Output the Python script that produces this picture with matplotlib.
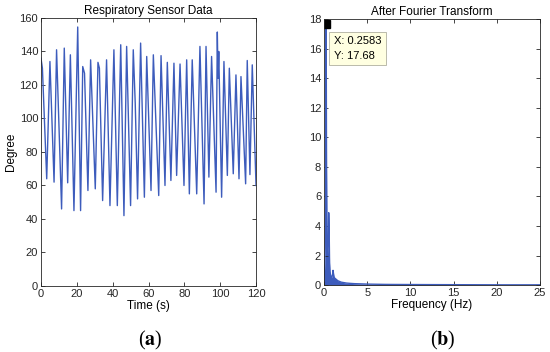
import matplotlib
matplotlib.use("Agg")
import matplotlib.pyplot as plt

plt.rcParams['font.family'] = ['Liberation Sans', 'DejaVu Sans']
plt.rcParams['mathtext.fontset'] = 'stix'

# (a) respiratory sensor: peaks / troughs
time_s = [0, 0.8, 3.2, 5.0, 7.3, 8.7, 11.5, 13.0, 14.9, 16.4, 18.4, 20.5, 22.1,
          23.3, 24.3, 26.2, 27.7, 30.3, 31.8, 32.6, 34.4, 36.6, 38.5, 40.7,
          42.6, 44.5, 46.3, 47.8, 50.0, 51.5, 52.6, 53.9, 55.6, 57.7, 59.0,
          61.4, 62.7, 65.7, 67.0, 69.2, 70.5, 72.5, 74.2, 75.7, 77.6, 79.8,
          81.3, 82.8, 84.4, 86.9, 88.7, 91.0, 92.1, 93.7, 95.2, 97.7, 98.4,
          98.8, 99.2, 100.8, 102.1, 104.0, 105.1, 107.3, 108.8, 110.5, 111.6,
          114.2, 115.1, 116.6, 117.9, 120.0]
degree = [136, 130, 64, 134, 62, 141, 46, 142, 61.6, 138, 45, 154.6, 45,
          131, 127, 57, 135, 58, 133.5, 130, 51, 135, 48, 141,
          48, 144, 42, 143, 48, 141, 109, 52, 145, 53, 137,
          57, 138, 54, 137.5, 60, 133.5, 63, 133, 66, 132.5, 60,
          135, 55, 135, 55, 143, 49, 143, 65, 137, 56, 151.6,
          124, 140, 53, 134, 66, 130, 67, 126, 64, 125,
          61, 134.6, 66.5, 132, 60]

# (b) spectrum envelope
freq_hz = [0, 0.05, 0.1, 0.15, 0.2, 0.2583, 0.3, 0.35, 0.4, 0.45, 0.5, 0.55,
           0.6, 0.65, 0.7, 0.8, 0.9, 1.0, 1.05, 1.1, 1.15, 1.2, 1.3, 1.4, 1.5,
           1.6, 1.8, 2.0, 2.3, 2.6, 3.0, 3.5, 4.0, 5.0, 6.0, 7.0, 8.0, 10, 12,
           15, 18, 21, 25]
magnitude = [0.3, 0.8, 1.5, 2.5, 6.0, 17.68, 8.0, 3.0, 2.0, 2.5, 3.0, 4.9,
             3.9, 1.5, 0.9, 0.6, 0.5, 0.7, 1.0, 0.8, 0.6, 0.5, 0.45, 0.4, 0.35,
             0.3, 0.25, 0.2, 0.17, 0.14, 0.12, 0.1, 0.09, 0.07, 0.06, 0.05,
             0.045, 0.04, 0.035, 0.03, 0.025, 0.02, 0.02]
peak_f, peak_m = 0.2583, 17.68

blue = '#3d5cbc'

fig = plt.figure(figsize=(5.5, 3.52), dpi=100)
ax1 = fig.add_axes([0.0745, 0.1875, 0.391, 0.7615])
ax2 = fig.add_axes([0.589, 0.190, 0.393, 0.756])

ax1.plot(time_s, degree, color=blue, lw=1.0)
ax1.set_xlim(0, 120)
ax1.set_ylim(0, 160)
ax1.set_xticks(range(0, 121, 20))
ax1.set_yticks(range(0, 161, 20))
ax1.set_title('Respiratory Sensor Data', fontsize=8.5, pad=3)
ax1.set_xlabel('Time (s)', fontsize=8.5, labelpad=1)
ax1.set_ylabel('Degree', fontsize=8.5, labelpad=2)

ax2.fill_between(freq_hz, 0, magnitude, color=blue, lw=0)
ax2.plot(freq_hz, magnitude, color=blue, lw=1.0)
ax2.plot([peak_f], [peak_m], 's', color='black', ms=5.5)
ax2.text(1.15, 16.85, 'X: 0.2583\nY: 17.68', fontsize=8, va='top', ha='left',
         linespacing=1.6,
         bbox=dict(boxstyle='square,pad=0.4', fc='#ffffe1', ec='#b0b0a0', lw=0.6))
ax2.set_xlim(0, 25)
ax2.set_ylim(0, 18)
ax2.set_xticks(range(0, 26, 5))
ax2.set_yticks(range(0, 19, 2))
ax2.set_title('After Fourier Transform', fontsize=8.5, pad=3)
ax2.set_xlabel('Frequency (Hz)', fontsize=8.5, labelpad=1)

for ax in (ax1, ax2):
    ax.tick_params(direction='in', top=True, right=True, labelsize=8,
                   length=3, width=0.6, pad=2, colors='#262626')
    for s in ax.spines.values():
        s.set_linewidth(0.6)
        s.set_color('#262626')

fig.text(0.273, 0.034, r'($\mathbf{a}$)', fontsize=14.5, ha='center',
         va='center', family='Liberation Serif')
fig.text(0.805, 0.034, r'($\mathbf{b}$)', fontsize=14.5, ha='center',
         va='center', family='Liberation Serif')

fig.savefig('out.png', dpi=100)
